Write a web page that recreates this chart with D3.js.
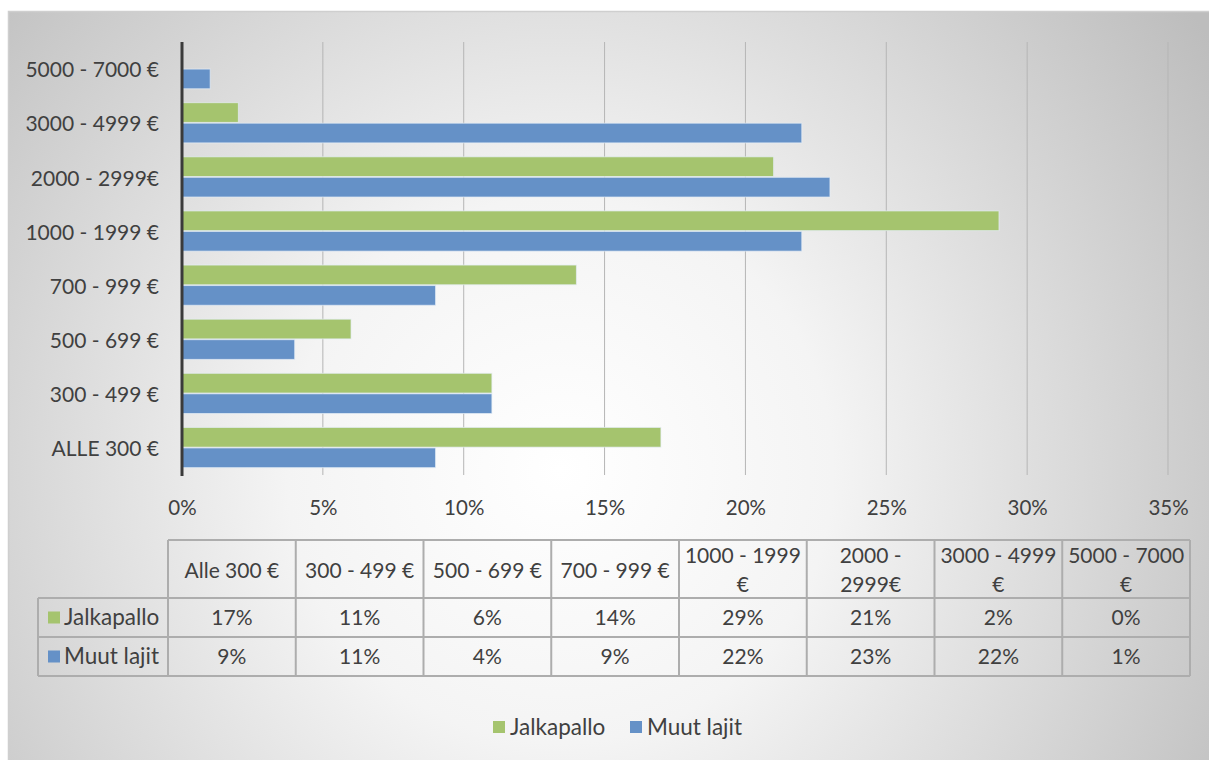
<!DOCTYPE html>
<html>
<head>
<meta charset="utf-8">
<script src="https://cdn.jsdelivr.net/npm/d3@7/dist/d3.min.js"></script>
<style>
  html, body { margin: 0; padding: 0; background: #ffffff; }
  svg { display: block; font-family: Lato, "Open Sans", sans-serif; }
</style>
</head>
<body>
<svg id="chart" width="1209" height="760"></svg>
<script>
// Price ranges, bottom to top on the axis
const categories = ["ALLE 300 €", "300 - 499 €", "500 - 699 €", "700 - 999 €",
                    "1000 - 1999 €", "2000 - 2999€", "3000 - 4999 €", "5000 - 7000 €"];
// Column headers of the data table (line breaks as shown in the cells)
const tableHeaders = [["Alle 300 €"], ["300 - 499 €"], ["500 - 699 €"], ["700 - 999 €"],
                      ["1000 - 1999", "€"], ["2000 -", "2999€"], ["3000 - 4999", "€"], ["5000 - 7000", "€"]];
const seriesNames = ["Jalkapallo", "Muut lajit"];
const jalkapallo = [17, 11, 6, 14, 29, 21, 2, 0];
const muutLajit = [9, 11, 4, 9, 22, 23, 22, 1];
const xTicks = [0, 5, 10, 15, 20, 25, 30, 35];
const seriesColors = ["#a5c46e", "#6591c7"];

const values = [jalkapallo, muutLajit];
const svg = d3.select("#chart");
const textColor = "#404040";

// Background panel with soft radial shading
const defs = svg.append("defs");
const grad = defs.append("radialGradient").attr("id", "bg")
  .attr("gradientUnits", "userSpaceOnUse")
  .attr("cx", 560).attr("cy", 470).attr("r", 780);
grad.append("stop").attr("offset", "0").attr("stop-color", "#ffffff");
grad.append("stop").attr("offset", "0.35").attr("stop-color", "#f4f4f4");
grad.append("stop").attr("offset", "1").attr("stop-color", "#bdbdbd");

svg.append("rect").attr("x", 8.5).attr("y", 11.5).attr("width", 1205).attr("height", 754)
  .attr("fill", "url(#bg)").attr("stroke", "#cfcfcf").attr("stroke-width", 1.5);

// Scales
const x = d3.scaleLinear().domain([0, 35]).range([182, 1168]);
const y = d3.scaleBand().domain(categories.slice().reverse()).range([42, 475]).padding(0);
const ySub = d3.scaleBand().domain(seriesNames).range([0, y.bandwidth()])
  .paddingInner(0).paddingOuter(0.32);

// Vertical gridlines
svg.append("g").selectAll("line").data(xTicks.filter(d => d > 0)).join("line")
  .attr("x1", d => x(d)).attr("x2", d => x(d))
  .attr("y1", 42).attr("y2", 475)
  .attr("stroke", "#b5b5b5").attr("stroke-width", 1);

// Bars
const rows = categories.map((c, i) => ({ cat: c, vals: seriesNames.map((s, j) => ({ s, j, v: values[j][i] })) }));
const groups = svg.append("g").selectAll("g").data(rows).join("g")
  .attr("transform", d => `translate(0,${y(d.cat)})`);
groups.selectAll("rect").data(d => d.vals.filter(v => v.v > 0)).join("rect")
  .attr("x", x(0))
  .attr("y", d => ySub(d.s))
  .attr("width", d => x(d.v) - x(0))
  .attr("height", ySub.bandwidth() - 0.8)
  .attr("fill", d => seriesColors[d.j])
  .attr("stroke", "#e6eef6").attr("stroke-opacity", 0.7).attr("stroke-width", 1);

// Value axis labels
const xAxis = d3.axisBottom(x).tickValues(xTicks).tickFormat(d => d + "%").tickSize(0).tickPadding(0);
const xg = svg.append("g").attr("transform", "translate(0,508)").call(xAxis);
xg.select(".domain").remove();
xg.selectAll("text").attr("fill", textColor).attr("font-size", 20.5).attr("dy", "0.35em")
  .attr("font-family", "Lato, sans-serif");

// Category axis
const yAxis = d3.axisLeft(y).tickSize(0).tickPadding(23);
const yg = svg.append("g").attr("transform", `translate(${x(0)},1.5)`).call(yAxis);
yg.select(".domain").remove();
yg.selectAll("text").attr("fill", textColor).attr("font-size", 21)
  .attr("font-family", "Lato, sans-serif");
svg.append("line").attr("x1", x(0)).attr("x2", x(0)).attr("y1", 42).attr("y2", 476)
  .attr("stroke", "#3a3a3a").attr("stroke-width", 3);

// Data table below the plot
const tx = d3.scaleBand().domain(tableHeaders.map((h, i) => i)).range([168, 1190]);
const rowLabelX = 38;
const headerTop = 540, headerBottom = 598, rowH = 39;
const table = svg.append("g").attr("font-size", 21).attr("fill", textColor);
const gridColor = "#adadad";

// Horizontal rules
const hLines = [
  { y: headerTop, x1: 168, x2: 1190 },
  { y: headerBottom, x1: rowLabelX, x2: 1190 },
  { y: headerBottom + rowH, x1: rowLabelX, x2: 1190 },
  { y: headerBottom + 2 * rowH, x1: rowLabelX, x2: 1190 }
];
table.selectAll("line.h").data(hLines).join("line").attr("class", "h")
  .attr("x1", d => d.x1).attr("x2", d => d.x2).attr("y1", d => d.y).attr("y2", d => d.y)
  .attr("stroke", gridColor).attr("stroke-width", 2);
// Vertical rules
const vPos = tableHeaders.map((h, i) => tx(i)).concat([1190]);
table.selectAll("line.v").data(vPos).join("line").attr("class", "v")
  .attr("x1", d => d).attr("x2", d => d).attr("y1", headerTop).attr("y2", headerBottom + 2 * rowH)
  .attr("stroke", gridColor).attr("stroke-width", 2);
table.append("line").attr("x1", rowLabelX).attr("x2", rowLabelX)
  .attr("y1", headerBottom).attr("y2", headerBottom + 2 * rowH)
  .attr("stroke", gridColor).attr("stroke-width", 2);

// Header cells
const hc = table.selectAll("text.hdr").data(tableHeaders).join("text").attr("class", "hdr")
  .attr("text-anchor", "middle").attr("fill", textColor);
hc.each(function(lines, i) {
  const t = d3.select(this);
  const cx = tx(i) + tx.bandwidth() / 2;
  const mid = (headerTop + headerBottom) / 2 + 1.5;
  const lh = 29;
  lines.forEach((ln, k) => {
    t.append("tspan").attr("x", cx)
      .attr("y", mid + (k - (lines.length - 1) / 2) * lh)
      .attr("dy", "0.35em").text(ln);
  });
});

// Value cells and row labels with legend keys
seriesNames.forEach((s, j) => {
  const cy = headerBottom + j * rowH + rowH / 2;
  table.append("rect").attr("x", 48).attr("y", cy - 6).attr("width", 12).attr("height", 12)
    .attr("fill", seriesColors[j]);
  table.append("text").attr("x", 64).attr("y", cy).attr("dy", "0.35em")
    .attr("font-size", 22.5).attr("fill", textColor).text(s);
  table.selectAll(null).data(values[j]).join("text")
    .attr("x", (d, i) => tx(i) + tx.bandwidth() / 2).attr("y", cy).attr("dy", "0.35em")
    .attr("text-anchor", "middle").attr("fill", textColor).text(d => d + "%");
});

// Legend
const legend = svg.append("g").attr("font-size", 22.5);
const legendItems = [{ name: seriesNames[0], x: 493 }, { name: seriesNames[1], x: 630 }];
legendItems.forEach((it, j) => {
  legend.append("rect").attr("x", it.x).attr("y", 721).attr("width", 12).attr("height", 12)
    .attr("fill", seriesColors[j]);
  legend.append("text").attr("x", it.x + 17).attr("y", 727).attr("dy", "0.35em")
    .attr("fill", textColor).text(it.name);
});
</script>
</body>
</html>
